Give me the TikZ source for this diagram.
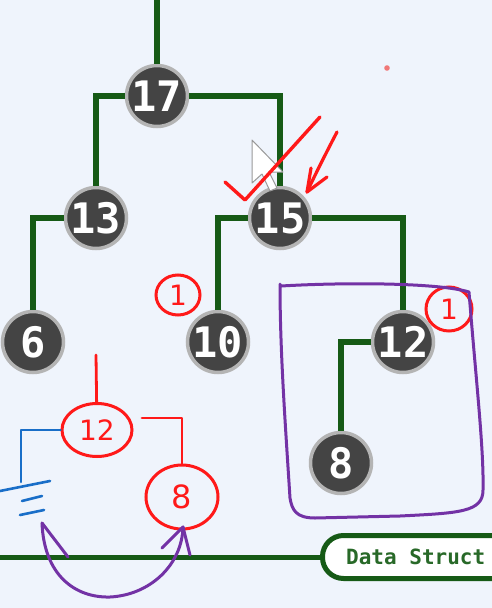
\documentclass[tikz,border=0pt]{standalone}
\usepackage{fontspec}
\newfontfamily\monob{DejaVu Sans Mono}[BoldFont={* Bold}]
\newfontfamily\handf{DejaVu Sans}
\usetikzlibrary{shapes.geometric}
\definecolor{bgc}{RGB}{239,244,252}
\definecolor{treeg}{RGB}{22,90,22}
\definecolor{txtg}{RGB}{40,105,40}
\definecolor{nodef}{RGB}{68,68,68}
\definecolor{ringc}{RGB}{180,180,180}
\definecolor{penred}{RGB}{255,25,25}
\definecolor{penblue}{RGB}{25,110,200}
\definecolor{penpurple}{RGB}{115,50,165}
\definecolor{dotred}{RGB}{240,120,120}
\tikzset{
  treenode/.style={circle, fill=nodef, draw=ringc, line width=3.5pt, minimum size=61pt, inner sep=0pt,
    text=white, font=\monob\bfseries\fontsize{42}{42}\selectfont},
  treeedge/.style={draw=treeg, line width=6pt},
  redcirc/.style={ellipse, draw=penred, line width=3pt, inner sep=0pt, text=penred,
    font=\handf\fontsize{28}{28}\selectfont},
  redpen/.style={draw=penred, line width=2.8pt, line cap=round, line join=round},
  bluepen/.style={draw=penblue, line width=2.6pt, line cap=round, line join=round},
  purppen/.style={draw=penpurple, line width=3pt, line cap=round, line join=round},
}
\begin{document}
\begin{tikzpicture}[x=1pt,y=-1pt]
\useasboundingbox (0,0) rectangle (492,608);
\clip (0,0) rectangle (492,608);
\fill[bgc] (0,0) rectangle (492,608);

% tree nodes
\node[treenode] (n17) at (157,96) {17};
\node[treenode] (n13) at (96,218) {13};
\node[treenode] (n15) at (280,218) {15};
\node[treenode] (n6) at (33,342) {6};
\node[treenode] (n10) at (218,342) {10};
\node[treenode] (n12) at (403,342) {12};
\node[treenode] (n8) at (341,463) {8};
\coordinate (top) at (157,0);

% tree edges
\draw[treeedge] (top) -- (n17);
\draw[treeedge] (n17) -| (n13);
\draw[treeedge] (n17) -| (n15);
\draw[treeedge] (n13) -| (n6);
\draw[treeedge] (n15) -| (n10);
\draw[treeedge] (n15) -| (n12);
\draw[treeedge] (n12) -| (n8);

% bottom bar and label
\node[draw=treeg, line width=5pt, fill=white, rounded corners=21pt, minimum height=43pt,
  minimum width=260pt, anchor=west, inner sep=0pt] (lbl) at (320,557) {};
\node[anchor=west, text=txtg, font=\monob\bfseries\fontsize{21}{21}\selectfont, inner sep=0pt]
  (lbltxt) at (346,557) {Data Struct};
\coordinate (barL) at (0,557);
\draw[treeedge, line width=5pt] (barL) -- (lbl);

% cursor
\draw[fill=white, draw=gray!80, line width=1pt, line join=round]
  (252,140) -- (252,183) -- (262,174) -- (270,191) -- (277,188) -- (269,172) -- (283,172) -- cycle;

% red check and arrow
\draw[redpen, line width=3.4pt] (225,182) -- (245,200) -- (320,117);
\draw[redpen, line width=3.2pt] (337,132) .. controls (325,155) and (315,175) .. (307,192);
\draw[redpen, line width=3.2pt] (311,168) -- (307,192) -- (327,177);
\fill[dotred] (387,68) circle (2.8pt);

% circled ones
\node[redcirc, minimum width=44pt, minimum height=40pt] (c1a) at (178,295) {1};
\node[redcirc, minimum width=46pt, minimum height=44pt] (c1b) at (449,309) {1};

% red hand-drawn subtree
\node[redcirc, minimum width=70pt, minimum height=53pt] (r12) at (97,430) {12};
\node[redcirc, minimum width=72pt, minimum height=64pt, font=\handf\fontsize{32}{32}\selectfont] (r8) at (182,497) {8};
\coordinate (rtop) at (96,355);
\coordinate (rstart) at (142,418);
\draw[redpen] (rtop) -- (r12);
\draw[redpen] (rstart) -| (r8);

% blue branch and ground marks
\coordinate (bend) at (21,482);
\draw[bluepen] (r12) -| (bend);
\draw[bluepen] (0,491) -- (50,481);
\draw[bluepen] (22,501) -- (42,496);
\draw[bluepen] (20,515) -- (44,510);

% purple box
\draw[purppen] (281,286) .. controls (350,282) and (440,283) .. (469,292)
  .. controls (476,380) and (484,450) .. (483,490)
  .. controls (483,512) and (460,513) .. (400,516) -- (315,518)
  .. controls (296,518) and (292,510) .. (290,498)
  .. controls (285,420) and (280,350) .. (280,284);

% purple swap arrow
\draw[purppen] (42,523) .. controls (44,575) and (75,598) .. (110,597)
  .. controls (150,595) and (182,565) .. (183,527);
\draw[purppen] (42,523) -- (68,557);
\draw[purppen] (162,548) -- (183,527) -- (190,555);
\end{tikzpicture}
\end{document}
